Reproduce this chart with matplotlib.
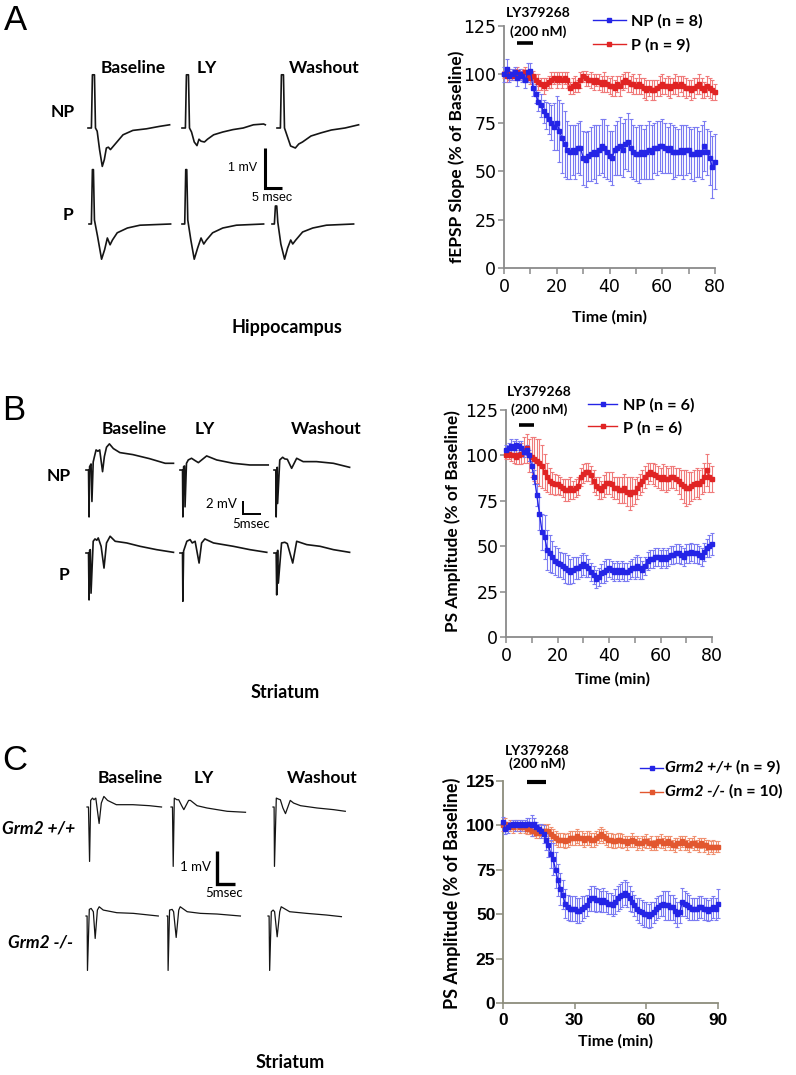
import matplotlib
matplotlib.use("Agg")
import matplotlib.pyplot as plt
from matplotlib.lines import Line2D
from matplotlib.font_manager import FontProperties
import numpy as np

# ======================= DATA =======================
TIME_AB = list(range(0, 81))
TIME_C = list(range(0, 91))

A_NP_MEAN = [100,103,99,100,101,98,100,99,97,101,102,
             93,90,86,84,81,79,77,75,73,75,
             71,67,64,61,60,61,60,62,62,57,
             56,58,59,60,59,61,63,62,60,58,
             57,61,62,63,61,64,65,62,60,59,
             59,60,59,60,61,60,62,62,63,63,
             62,61,62,60,60,60,61,60,61,61,
             59,59,60,59,60,63,60,57,52,55]
A_NP_ERR = [4,5,3,3,3,4,3,3,4,5,4,
            4,5,5,6,6,7,8,9,12,14,
            16,18,17,15,14,13,14,13,14,14,
            14,13,14,14,15,13,14,15,14,13,
            14,13,14,15,14,13,15,15,14,14,
            15,14,13,14,15,14,13,14,13,14,
            13,12,13,14,13,12,13,14,13,12,
            13,14,13,12,14,13,12,14,16,14]
A_P_MEAN = [100,99,100,99,100,101,99,100,101,99,98,
            99,97,96,95,94,95,96,97,98,97,
            98,97,98,97,93,94,95,94,97,99,
            98,97,97,96,97,96,95,96,95,94,
            94,93,95,94,96,97,96,95,95,94,
            95,94,93,92,93,92,92,93,94,95,
            94,94,93,94,95,94,95,94,93,93,
            92,93,94,95,93,92,94,93,92,91]
A_P_ERR = [2,3,3,2,3,3,2,3,3,2,3,
           3,3,4,3,4,3,3,4,3,4,
           3,4,3,4,3,4,4,3,4,3,
           4,3,4,4,3,4,4,5,4,4,
           5,4,4,5,4,4,5,4,5,4,
           5,4,5,5,4,5,5,4,5,5,
           4,5,5,4,5,5,4,5,5,4,
           5,5,4,5,5,4,5,5,5,4]

B_NP_MEAN = [103,104,105,104,106,105,104,102,103,100,94,
             88,78,68,58,55,48,46,44,42,41,
             40,39,38,37,36,37,38,38,39,40,
             39,38,36,34,32,33,35,36,37,38,
             37,36,37,36,37,36,36,37,38,38,
             39,38,37,39,42,43,43,44,44,43,
             44,43,44,45,45,46,46,45,44,46,
             46,47,46,46,45,44,47,49,50,51]
B_NP_ERR = [3,3,4,4,3,3,4,3,3,3,3,
            4,6,9,10,12,11,10,9,8,8,
            7,7,8,8,7,7,6,6,6,6,
            6,5,5,5,5,5,5,6,6,5,
            5,5,5,5,5,5,5,5,5,6,
            6,6,5,5,5,5,5,5,5,5,
            5,5,5,5,5,5,5,5,5,5,
            5,5,5,5,5,5,5,5,6,6]
B_P_MEAN = [100,101,100,100,99,100,101,103,104,100,99,
            98,97,96,94,91,88,86,85,84,84,
            83,82,81,81,82,81,82,83,88,90,
            91,91,89,86,83,82,81,83,85,85,
            84,82,82,81,81,82,80,79,80,80,
            82,84,86,88,90,91,90,89,88,87,
            88,87,87,88,88,87,86,84,83,82,
            82,83,84,85,84,86,88,92,88,87]
B_P_ERR = [2,3,3,4,4,5,6,7,8,9,11,
           12,12,13,12,10,8,7,6,6,5,
           5,5,6,6,6,5,5,5,5,5,
           5,5,5,6,5,6,5,6,6,6,
           7,6,6,7,7,8,8,9,8,7,
           6,6,6,6,6,5,6,6,6,6,
           7,7,6,6,6,6,7,8,9,10,
           9,8,8,8,8,7,8,9,8,7]

C_WT_MEAN = [102,98,99,100,101,100,101,100,101,100,101,
             101,100,101,99,98,97,95,92,89,84,
             81,75,69,64,61,56,54,53,53,53,
             52,52,53,54,55,58,59,59,58,58,
             57,58,57,56,56,55,57,59,60,61,
             62,61,59,57,55,53,52,51,50,50,
             49,50,51,53,54,55,56,55,55,54,
             54,52,50,51,57,56,55,54,53,53,
             53,54,54,53,53,52,53,54,53,56]
C_WT_ERR = [3,3,3,2,2,3,2,3,2,3,3,
            3,6,3,3,3,4,5,6,7,8,
            9,10,9,9,8,8,7,7,7,7,
            7,7,7,6,6,6,7,7,7,6,
            6,7,6,6,6,6,7,7,7,7,
            7,7,7,6,6,6,7,7,7,7,
            7,7,6,6,6,6,7,8,8,7,
            7,7,7,6,8,7,7,7,6,6,
            6,6,6,6,6,6,6,6,6,8]
C_KO_MEAN = [100,101,100,100,99,100,100,99,99,99,98,
             98,97,97,96,96,97,97,97,97,95,
             94,93,92,92,92,91,92,93,93,93,
             94,93,93,92,93,93,92,92,93,94,
             95,94,93,92,92,91,91,92,92,91,
             91,90,91,92,91,90,90,90,91,91,
             90,90,89,90,91,91,90,90,91,90,
             89,89,90,90,91,90,89,89,90,90,
             89,89,90,89,89,88,88,88,88,88]
C_KO_ERR = [3,3,2,3,3,2,3,3,2,3,3,
            3,3,3,3,3,3,4,3,4,4,
            4,4,4,4,4,4,4,4,4,4,
            4,4,4,4,4,4,4,4,4,4,
            4,4,4,4,4,4,4,4,4,4,
            3,4,3,4,3,4,3,4,3,4,
            3,4,3,4,3,4,3,4,3,4,
            3,4,3,4,3,4,3,4,3,4,
            3,4,3,4,3,4,3,4,3,3]

DRUG_AB = (5, 11)
DRUG_C = (10, 18)

LEGEND_A = ["NP (n = 8)", "P (n = 9)"]
LEGEND_B = ["NP (n = 6)", "P (n = 6)"]
LEGEND_C_GENO = ["Grm2 +/+", "Grm2 -/-"]
LEGEND_C_N = ["(n = 9)", "(n = 10)"]
COLUMNS = ["Baseline", "LY", "Washout"]
ROWS_AB = ["NP", "P"]
ROWS_C = ["Grm2 +/+", "Grm2 -/-"]

# Example traces: (ms, mV) relative to the pre-stimulus baseline
TR_A = {
    ("NP", 0): [(0,0),(1,0),(1.3,1.33),(1.9,1.33),(2.2,0),(2.45,-0.04),(2.7,-0.08),(3.4,-0.54),
                (4.2,-0.96),(4.8,-0.79),(5.4,-0.5),(6.0,-0.48),(6.6,-0.54),(7.8,-0.42),(10.3,-0.17),
                (13.2,-0.06),(17.2,-0.02),(21,0.04),(24,0.08)],
    ("NP", 1): [(0,0),(1,0),(1.3,1.33),(1.9,1.33),(2.2,0),(2.8,-0.1),(3.6,-0.35),(4.4,-0.44),
                (5.0,-0.28),(5.6,-0.33),(6.6,-0.35),(7.5,-0.28),(9.3,-0.17),(12,-0.1),(15,-0.04),
                (18,0.0),(21,0.08),(24,0.1),(24.5,0.08)],
    ("NP", 2): [(0,0),(1,0),(1.3,1.33),(1.9,1.33),(2.2,0),(3.4,-0.3),(4.0,-0.45),(5.4,-0.5),
                (6.4,-0.4),(7.5,-0.35),(10,-0.2),(13,-0.12),(16,-0.05),(20,0.0),(24,0.08)],
    ("P", 0): [(0,0),(0.7,0),(1.0,1.36),(1.3,1.36),(1.6,0.1),(2.5,-0.3),(3.7,-0.88),(4.6,-0.64),
               (5.4,-0.35),(6.2,-0.52),(6.9,-0.4),(8.3,-0.22),(11.3,-0.1),(15,-0.03),(24,0.0)],
    ("P", 1): [(0,0),(0.8,0),(1.1,1.36),(1.4,1.36),(1.7,0.1),(2.6,-0.4),(3.6,-0.88),(4.6,-0.6),
               (5.6,-0.35),(6.4,-0.5),(7.2,-0.4),(9,-0.22),(12,-0.1),(16,-0.03),(24,0.0)],
    ("P", 2): [(0,0),(0.7,0),(1.0,0.45),(1.4,0.45),(1.7,0.05),(2.6,-0.5),(3.7,-0.88),(4.6,-0.6),
               (5.5,-0.4),(6.1,-0.5),(7.0,-0.4),(9,-0.2),(12,-0.1),(16,-0.03),(24,0.0)],
}
TR_B = {
    ("NP", 0): [(0,0),(0.7,0),(0.85,-7.0),(1.0,0.5),(1.4,0.9),(1.65,-4.7),(2.0,1.2),(2.3,1.9),
                (2.8,3.0),(3.3,2.8),(3.8,3.0),(4.6,-0.25),(5.1,2.0),(5.7,3.4),(6.5,3.9),(7.6,3.2),
                (9.4,2.6),(13,2.3),(17.6,1.7),(22,1.0),(24.3,1.0)],
    ("NP", 1): [(0,0),(0.7,0),(0.8,-7.0),(1.0,0.5),(1.25,0.6),(1.4,-5.5),(1.8,1.0),(2.3,1.5),
                (3.2,1.75),(4.2,1.4),(5.1,1.1),(7.4,2.1),(10.2,1.5),(14.8,1.0),(19.4,0.75),(24.5,0.75)],
    ("NP", 2): [(0,0),(0.5,0),(0.6,-7.0),(0.8,0.3),(0.9,0.4),(1.0,-5.0),(1.6,1.5),(2.4,1.9),
                (3.0,1.65),(3.7,1.6),(4.9,0.25),(6.3,1.75),(8.1,1.25),(11.8,1.25),(16.5,1.0),(21,0.4)],
    ("P", 0): [(0,0),(0.7,0),(0.85,-7.0),(1.0,0.4),(1.2,0.5),(1.4,-6.0),(2.0,1.75),(2.5,2.1),
               (3.0,1.9),(3.4,2.25),(4.2,1.0),(5.0,-2.25),(5.7,1.5),(6.7,2.5),(8.1,1.75),
               (11.3,1.5),(15,1.0),(19.6,0.5),(24.3,0.1)],
    ("P", 1): [(0,0),(0.7,0),(0.8,-7.2),(1.0,0.3),(1.9,1.75),(2.8,2.0),(3.4,1.5),(4.2,1.75),
               (5.3,-1.5),(6.0,1.5),(6.9,2.1),(9.3,1.5),(14.8,1.0),(19.4,0.5),(24.1,0.1)],
    ("P", 2): [(0,0),(0.6,0),(0.75,-6.25),(0.95,0.3),(1.05,0.4),(1.2,-4.5),(2.1,1.5),(3.0,1.6),
               (3.7,1.4),(5.2,-1.5),(6.3,1.75),(9.1,1.25),(12.8,1.0),(16.5,0.5),(21,0.1)],
}
TR_C = {
    (0, 0): [(0,0),(0.4,0),(0.7,-1.65),(1.0,0.2),(1.5,0.27),(1.9,0.22),(2.4,0.27),(3.3,-0.5),
             (3.9,0.12),(4.6,0.32),(5.6,0.2),(8.0,0.07),(12.5,0.07),(17,0.04),(20.3,0.0)],
    (0, 1): [(0,0),(0.4,0),(0.6,-1.8),(0.9,0.27),(1.6,0.22),(2.1,0.22),(3.0,0.02),(3.5,-0.08),
             (4.8,0.2),(5.3,0.2),(7.1,0.04),(9.8,-0.03),(15.3,-0.13),(20.3,-0.16)],
    (0, 2): [(0,0),(0.3,0),(0.4,-1.8),(0.9,0.27),(1.5,0.24),(2.0,0.22),(2.7,-0.03),(3.4,-0.2),
             (4.7,0.2),(5.6,0.12),(7.5,0.04),(12,-0.03),(16.5,-0.08),(19.7,-0.13)],
    (1, 0): [(0,0),(0.3,0),(0.4,-1.65),(0.9,0.2),(1.4,0.23),(2.0,0.13),(2.5,-0.68),(3.1,0.18),
             (3.6,0.28),(4.7,0.18),(8.4,0.1),(12.9,0.08),(19.7,0.0)],
    (1, 1): [(0,0),(0.2,0),(0.3,-1.65),(0.7,0.18),(1.4,0.2),(1.8,0.13),(2.5,-0.65),(3.2,0.18),
             (3.6,0.28),(5.5,0.13),(9.1,0.08),(13.6,0.06),(20,0.0)],
    (1, 2): [(0,0),(0.3,0),(0.45,-1.65),(0.9,0.13),(1.4,0.18),(1.8,0.13),(2.5,-0.63),(3.2,0.13),
             (3.6,0.28),(5.9,0.13),(10.5,0.08),(15.9,0.03),(20,-0.02)],
}

# ======================= STYLE / LAYOUT =======================
W, H = 796, 1075
LBL = ["Lato", "DejaVu Sans"]
TICKF = ["Liberation Sans", "DejaVu Sans"]
WIDEF = ["DejaVu Sans"]
BLUE, BLUE_E = "#2424e6", "#7b7bf2"
RED, RED_E = "#e02424", "#f07a7a"
ORANGE, ORANGE_E = "#e2572f", "#f09070"

fig = plt.figure(figsize=(W / 100, H / 100), dpi=100)
ov = fig.add_axes([0, 0, 1, 1])
ov.set_xlim(0, W)
ov.set_ylim(H, 0)
ov.axis("off")


def px_axes(x0, x1, ytop, ybot):
    return fig.add_axes([x0 / W, 1 - ybot / H, (x1 - x0) / W, (ybot - ytop) / H])


def txt(x, y, s, size=12.5, weight="bold", style="normal", family=LBL, ha="center"):
    return ov.text(x, y, s, fontsize=size, fontweight=weight, fontstyle=style, family=family,
                   ha=ha, va="center")


def draw_trace(tr, x0, y0, pxms, pxmv, lw):
    t = np.array([p[0] for p in tr])
    v = np.array([p[1] for p in tr])
    ov.plot(x0 + t * pxms, y0 - v * pxmv, color="#151515", lw=lw, solid_joinstyle="round")


def scale_bar(x, y, mv, ms, pxms, pxmv, lw):
    ov.plot([x, x, x + ms * pxms], [y - mv * pxmv, y, y], color="black", lw=lw,
            solid_joinstyle="miter", solid_capstyle="butt")


def series(ax, t, m, e, c, ce):
    ax.errorbar(t, m, yerr=e, fmt="s-", color=c, ms=2.6, lw=1.0, ecolor=ce,
                elinewidth=0.8, capsize=1.6, capthick=0.8, clip_on=False, zorder=3)


def style_chart(ax, xmax, xmajor, xminor, spine_col, tick_bold, tsize, tfam):
    ax.set_xlim(0, xmax)
    ax.set_ylim(0, 125)
    for s in ["top", "right"]:
        ax.spines[s].set_visible(False)
    for s in ["left", "bottom"]:
        ax.spines[s].set_color(spine_col)
        ax.spines[s].set_linewidth(1.3)
    ax.set_yticks([0, 25, 50, 75, 100, 125])
    ax.set_xticks(xmajor)
    if xminor:
        ax.set_xticks(xminor, minor=True)
    ax.tick_params(axis="both", which="both", direction="out", length=4, width=1.1,
                   color=spine_col, labelsize=tsize)
    ax.tick_params(axis="x", pad=3)
    ax.tick_params(axis="y", pad=1.5)
    for lab in ax.get_xticklabels() + ax.get_yticklabels():
        lab.set_family(tfam)
        lab.set_fontweight("bold" if tick_bold else "normal")
    ax.patch.set_alpha(0)


# ---------------- Panel letters ----------------
for letter, (x, y) in zip("ABC", [(15, 21), (14, 410), (15, 761)]):
    ov.text(x, y, letter, fontsize=25, family=["Liberation Sans", "DejaVu Sans"],
            ha="center", va="center")

# ---------------- Panel A traces ----------------
pxms, pxmv = 3.4, 40
for r, row in enumerate(ROWS_AB):
    for c in range(3):
        x0 = [[88, 182, 277], [89, 182, 272]][r][c]
        y0 = [128, 224][r]
        draw_trace(TR_A[(row, c)], x0, y0, pxms, pxmv, 1.2)
scale_bar(265, 188, 1, 5, pxms, pxmv, 2.2)
txt(243, 168, "1 mV", size=9, weight="normal", family=TICKF)
txt(272, 198, "5 msec", size=9, weight="normal", family=TICKF)
for s, x in zip(COLUMNS, [133, 207, 324]):
    txt(x, 68, s)
txt(63, 112, ROWS_AB[0])
txt(68, 215, ROWS_AB[1])
txt(287, 327, "Hippocampus", size=13)

# ---------------- Panel B traces ----------------
pxms, pxmv = 3.6, 6.7
for r, row in enumerate(ROWS_AB):
    for c in range(3):
        x0 = [86, 180, 274][c]
        y0 = [470, 553][r]
        draw_trace(TR_B[(row, c)], x0, y0, pxms, pxmv, 1.2)
scale_bar(243, 514, 2, 5, pxms, pxmv, 1.4)
txt(221, 504, "2 mV", size=9.5, weight="normal", family=LBL)
txt(251, 524, "5msec", size=9.5, weight="normal", family=LBL)
for s, x in zip(COLUMNS, [134, 205, 326]):
    txt(x, 429, s)
txt(59, 476, ROWS_AB[0])
txt(64, 575, ROWS_AB[1])
txt(285, 693, "Striatum", size=13)

# ---------------- Panel C traces ----------------
pxms, pxmv = 3.67, 33
for r in range(2):
    for c in range(3):
        x0 = [[87, 171, 273], [86, 167, 268]][r][c]
        y0 = [807, 916][r]
        draw_trace(TR_C[(r, c)], x0, y0, pxms, pxmv, 0.9)
scale_bar(217, 884, 1, 5, pxms, pxmv, 2.4)
txt(195, 867, "1 mV", size=9.5, weight="normal", family=LBL)
txt(224, 893, "5msec", size=9.5, weight="normal", family=LBL)
for s, x in zip(COLUMNS, [130, 204, 322]):
    txt(x, 778, s)
txt(39, 828, ROWS_C[0], style="italic")
txt(41, 943, ROWS_C[1], style="italic")
txt(290, 1063, "Striatum", size=13)

# ---------------- Chart A ----------------
axA = px_axes(504, 715, 26, 268)
series(axA, TIME_AB, A_P_MEAN, A_P_ERR, RED, RED_E)
series(axA, TIME_AB, A_NP_MEAN, A_NP_ERR, BLUE, BLUE_E)
style_chart(axA, 80, [0, 20, 40, 60, 80], [10, 30, 50, 70], "#8a8a8a", False, 12.5, WIDEF)
axA.plot(DRUG_AB, [116, 116], color="black", lw=2.6, solid_capstyle="butt", clip_on=False)
axA.set_xlabel("Time (min)", fontsize=11.5, fontweight="bold", family=LBL, va="center")
axA.xaxis.set_label_coords(0.502, -0.202)
axA.set_ylabel("fEPSP Slope (% of Baseline)", fontsize=12.5, fontweight="bold", family=LBL, va="center")
axA.yaxis.set_label_coords(-0.223, 0.459)
txt(538, 13, "LY379268", size=10)
txt(538, 32, "(200 nM)", size=10)

# ---------------- Chart B ----------------
axB = px_axes(506, 712, 410, 637)
series(axB, TIME_AB, B_P_MEAN, B_P_ERR, RED, RED_E)
series(axB, TIME_AB, B_NP_MEAN, B_NP_ERR, BLUE, BLUE_E)
style_chart(axB, 80, [0, 20, 40, 60, 80], [10, 30, 50, 70], "#8a8a8a", False, 12.5, WIDEF)
axB.plot(DRUG_AB, [117, 117], color="black", lw=2.6, solid_capstyle="butt", clip_on=False)
axB.set_xlabel("Time (min)", fontsize=11.5, fontweight="bold", family=LBL, va="center")
axB.xaxis.set_label_coords(0.515, -0.185)
axB.set_ylabel("PS Amplitude (% of Baseline)", fontsize=12.4, fontweight="bold", family=LBL, va="center")
axB.yaxis.set_label_coords(-0.257, 0.511)
txt(539, 392, "LY379268", size=10)
txt(539, 410, "(200 nM)", size=10)

# ---------------- Chart C ----------------
axC = px_axes(503, 718, 781, 1003)
series(axC, TIME_C, C_KO_MEAN, C_KO_ERR, ORANGE, ORANGE_E)
series(axC, TIME_C, C_WT_MEAN, C_WT_ERR, BLUE, BLUE_E)
style_chart(axC, 90, [0, 30, 60, 90], None, "#8c8c7c", True, 12.5, TICKF)
axC.tick_params(axis="y", length=5, pad=0.5)
axC.plot(DRUG_C, [124.5, 124.5], color="black", lw=3, solid_capstyle="butt", clip_on=False)
axC.set_xlabel("Time (min)", fontsize=11.5, fontweight="bold", family=LBL, va="center")
axC.xaxis.set_label_coords(0.521, -0.171)
axC.set_ylabel("PS Amplitude (% of Baseline)", fontsize=13, fontweight="bold", family=LBL, va="center")
axC.yaxis.set_label_coords(-0.237, 0.495)
txt(537, 751, "LY379268", size=10)
txt(537, 764, "(200 nM)", size=10)

# ---------------- Legends ----------------
def make_handles(cols):
    return [Line2D([], [], color=c, marker="s", ms=3, lw=1.0) for c in cols]

fpL = FontProperties(family=LBL, weight="bold", size=11.7)
axA.legend(make_handles([BLUE, RED]), LEGEND_A, loc="upper left", frameon=False, prop=fpL,
           bbox_to_anchor=(593 / W, 1 - 14 / H), bbox_transform=fig.transFigure,
           borderpad=0, borderaxespad=0, handlelength=2.0, handletextpad=0.35, labelspacing=0.6)
axB.legend(make_handles([BLUE, RED]), LEGEND_B, loc="upper left", frameon=False, prop=fpL,
           bbox_to_anchor=(588 / W, 1 - 398 / H), bbox_transform=fig.transFigure,
           borderpad=0, borderaxespad=0, handlelength=1.8, handletextpad=0.35, labelspacing=0.5)

# Legend C drawn by hand so that genotype (italic) and n (upright) can be mixed
for (col, geno, ntext, yrow) in zip([BLUE, ORANGE], LEGEND_C_GENO, LEGEND_C_N, [768, 792]):
    ov.add_line(Line2D([640, 663], [yrow, yrow], color=col, lw=1.0))
    ov.add_line(Line2D([651.5], [yrow], color=col, marker="s", ms=3, lw=0))
    tg = ov.text(665, yrow, geno, fontsize=11.5, fontweight="bold", fontstyle="italic",
                 family=LBL, ha="left", va="center")
    ov.annotate(" " + ntext, xy=(1, 0), xycoords=tg, ha="left", va="bottom",
                fontsize=11.5, fontweight="bold", family=LBL, annotation_clip=False)

fig.savefig("out.png", dpi=100)
